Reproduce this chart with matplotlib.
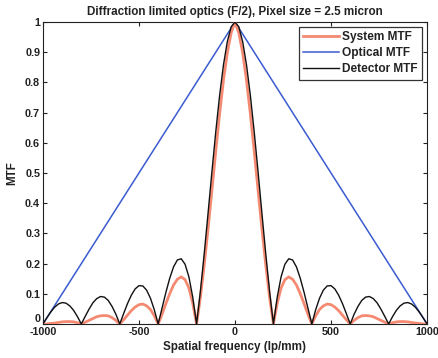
import numpy as np
import matplotlib
matplotlib.use("Agg")
import matplotlib.pyplot as plt

# Spatial frequency samples (lp/mm), 0..1000 step 20 (curves are symmetric)
freq_pos = list(range(0, 1001, 20))

detector_pos = [1.000, 0.984, 0.935, 0.858, 0.757, 0.637, 0.505, 0.368, 0.234, 0.109,
                0.000, 0.089, 0.156, 0.198, 0.216, 0.212, 0.189, 0.151, 0.104, 0.052,
                0.000, 0.047, 0.085, 0.112, 0.126, 0.127, 0.116, 0.095, 0.067, 0.034,
                0.000, 0.032, 0.058, 0.078, 0.089, 0.091, 0.084, 0.070, 0.049, 0.025,
                0.000, 0.024, 0.045, 0.060, 0.069, 0.071, 0.066, 0.055, 0.039, 0.020,
                0.000]

system_pos = [1.000, 0.964, 0.898, 0.807, 0.696, 0.573, 0.444, 0.316, 0.197, 0.089,
              0.000, 0.069, 0.119, 0.147, 0.156, 0.148, 0.129, 0.100, 0.067, 0.032,
              0.000, 0.027, 0.048, 0.060, 0.066, 0.064, 0.056, 0.044, 0.029, 0.014,
              0.000, 0.012, 0.021, 0.027, 0.028, 0.027, 0.024, 0.018, 0.012, 0.006,
              0.000, 0.004, 0.007, 0.008, 0.008, 0.007, 0.005, 0.003, 0.002, 0.000,
              0.000]

optical_freq = [-1000, 0, 1000]
optical_mtf = [0.0, 1.0, 0.0]

freq = [-f for f in freq_pos[:0:-1]] + freq_pos
detector = detector_pos[:0:-1] + detector_pos
system = system_pos[:0:-1] + system_pos

plt.rcParams['font.family'] = ['Liberation Sans', 'DejaVu Sans']
plt.rcParams['axes.unicode_minus'] = False

fig = plt.figure(figsize=(4.38, 3.58), dpi=100)
ax = fig.add_axes([0.098, 0.095, 0.877, 0.8435])

ax.plot(freq, system, color='#f58a72', lw=2.0, label='System MTF', zorder=3)
ax.plot(optical_freq, optical_mtf, color='#3b5bd0', lw=1.1, label='Optical MTF', zorder=2)
ax.plot(freq, detector, color='#111111', lw=1.0, label='Detector MTF', zorder=4)

ax.set_xlim(-1000, 1000)
ax.set_ylim(0, 1)
ax.set_xticks([-1000, -500, 0, 500, 1000])
ax.set_yticks([i / 10 for i in range(11)])
ax.set_yticklabels(['0', '0.1', '0.2', '0.3', '0.4', '0.5', '0.6', '0.7', '0.8', '0.9', '1'])
ax.tick_params(direction='in', top=True, right=True, length=3, width=0.8,
               labelsize=7.8, pad=2, colors='#222222')
for lab in ax.get_xticklabels() + ax.get_yticklabels():
    lab.set_fontweight('bold')
# lift the y "0" label slightly so it does not collide with "-1000"
ylabs = ax.get_yticklabels()
ylabs[0].set_verticalalignment('bottom')
for s in ax.spines.values():
    s.set_linewidth(0.8)
    s.set_color('#222222')

ax.set_xlabel('Spatial frequency (lp/mm)', fontsize=8.4, fontweight='bold', labelpad=3, color='#222222')
ax.set_ylabel('MTF', fontsize=8.4, fontweight='bold', labelpad=5, color='#222222')
ax.set_title('Diffraction limited optics (F/2), Pixel size = 2.5 micron',
             fontsize=8.4, fontweight='bold', pad=5, color='#222222')

leg = ax.legend(loc='upper right', fontsize=8.6, frameon=True, fancybox=False,
                edgecolor='black', handlelength=3.0, handletextpad=0.3,
                borderpad=0.35, labelspacing=0.35, borderaxespad=0.4)
leg.get_frame().set_linewidth(0.9)
for t in leg.get_texts():
    t.set_fontweight('bold')
    t.set_color('#222222')

fig.savefig('out.png', dpi=100)
